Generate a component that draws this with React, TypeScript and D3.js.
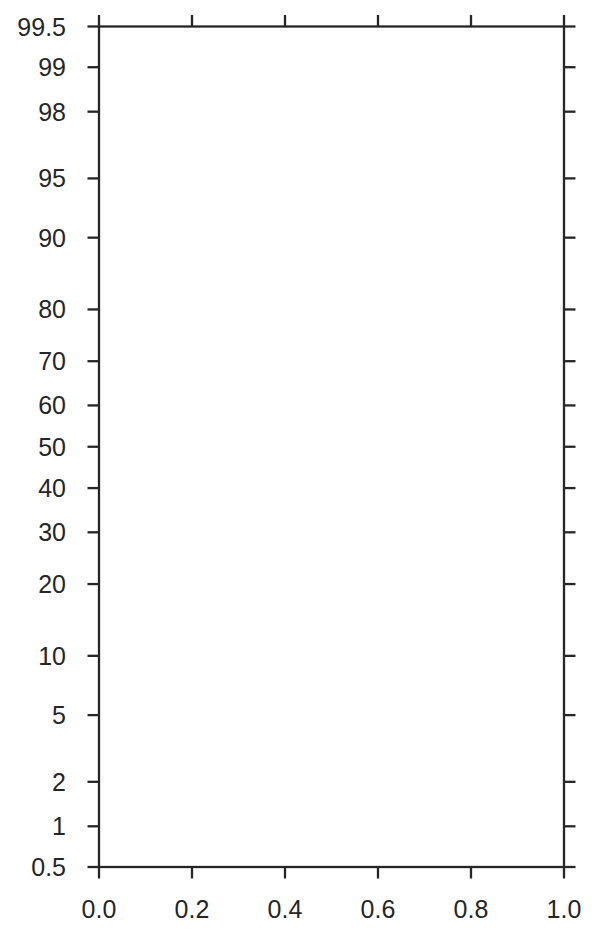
import React from "react";
import * as d3 from "d3";

const yTickValues = [0.5, 1, 2, 5, 10, 20, 30, 40, 50, 60, 70, 80, 90, 95, 98, 99, 99.5];
const yTickLabels = ["0.5", "1", "2", "5", "10", "20", "30", "40", "50", "60", "70", "80", "90", "95", "98", "99", "99.5"];
const xTickValues = [0, 0.2, 0.4, 0.6, 0.8, 1.0];
const yDomain = [0.5, 99.5];
const xDomain = [0, 1];

// Inverse standard normal CDF (Acklam)
function probit(p: number): number {
  const a = [-3.969683028665376e1, 2.209460984245205e2, -2.759285104469687e2, 1.38357751867269e2, -3.066479806614716e1, 2.506628277459239];
  const b = [-5.447609879822406e1, 1.615858368580409e2, -1.556989798598866e2, 6.680131188771972e1, -1.328068155288572e1];
  const c = [-7.784894002430293e-3, -3.223964580411365e-1, -2.400758277161838, -2.549732539343734, 4.374664141464968, 2.938163982698783];
  const d = [7.784695709041462e-3, 3.224671290700398e-1, 2.445134137142996, 3.754408661907416];
  const pl = 0.02425;
  let q: number, r: number;
  if (p < pl) {
    q = Math.sqrt(-2 * Math.log(p));
    return (((((c[0] * q + c[1]) * q + c[2]) * q + c[3]) * q + c[4]) * q + c[5]) / ((((d[0] * q + d[1]) * q + d[2]) * q + d[3]) * q + 1);
  }
  if (p > 1 - pl) {
    q = Math.sqrt(-2 * Math.log(1 - p));
    return -(((((c[0] * q + c[1]) * q + c[2]) * q + c[3]) * q + c[4]) * q + c[5]) / ((((d[0] * q + d[1]) * q + d[2]) * q + d[3]) * q + 1);
  }
  q = p - 0.5;
  r = q * q;
  return ((((((a[0] * r + a[1]) * r + a[2]) * r + a[3]) * r + a[4]) * r + a[5]) * q) / (((((b[0] * r + b[1]) * r + b[2]) * r + b[3]) * r + b[4]) * r + 1);
}

export default function App() {
  const W = 598, H = 937;
  const left = 99, right = 564, top = 26.5, bottom = 867;
  const x = d3.scaleLinear().domain(xDomain).range([left, right]);
  const zScale = d3.scaleLinear().domain([probit(yDomain[0] / 100), probit(yDomain[1] / 100)]).range([bottom, top]);
  const y = (v: number) => zScale(probit(v / 100));
  const col = "#262626";
  const tl = 11.5;
  const sw = 2.3;
  const font = "'Liberation Sans', Arial, sans-serif";
  const fs = 25;
  return (
    <svg width={W} height={H} style={{ position: "absolute", left: 0, top: 0, background: "#fff" }}>
      <rect x={0} y={0} width={W} height={H} fill="#fff" />
      <rect x={left} y={top} width={right - left} height={bottom - top} fill="none" stroke={col} strokeWidth={sw} />
      {yTickValues.map((v, i) => (
        <g key={"y" + i}>
          <line x1={left - tl} x2={left} y1={y(v)} y2={y(v)} stroke={col} strokeWidth={sw} />
          <line x1={right} x2={right + tl} y1={y(v)} y2={y(v)} stroke={col} strokeWidth={sw} />
          <text x={66} y={y(v)} dy="0.36em" textAnchor="end" fontFamily={font} fontSize={fs} fill={col}>
            {yTickLabels[i]}
          </text>
        </g>
      ))}
      {xTickValues.map((v, i) => (
        <g key={"x" + i}>
          <line x1={x(v)} x2={x(v)} y1={bottom} y2={bottom + tl} stroke={col} strokeWidth={sw} />
          <line x1={x(v)} x2={x(v)} y1={top - tl} y2={top} stroke={col} strokeWidth={sw} />
          <text x={x(v)} y={918} textAnchor="middle" fontFamily={font} fontSize={fs} fill={col}>
            {d3.format(".1f")(v)}
          </text>
        </g>
      ))}
    </svg>
  );
}
